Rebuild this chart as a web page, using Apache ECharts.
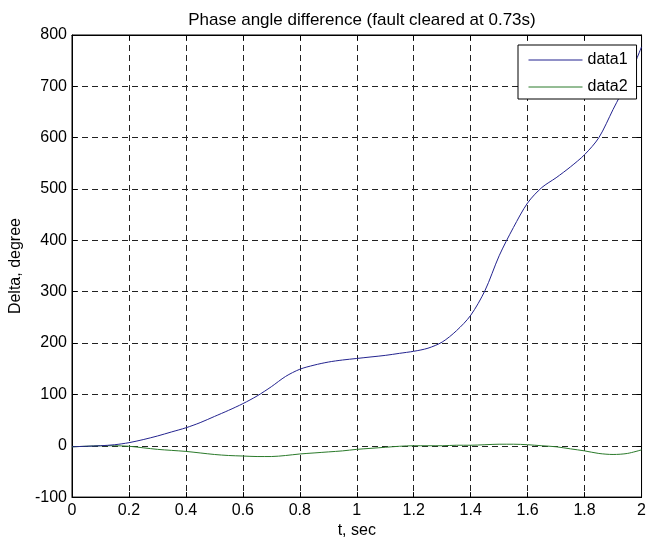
<!DOCTYPE html>
<html>
<head>
<meta charset="utf-8">
<title>Phase angle difference</title>
<script src="https://cdn.jsdelivr.net/npm/echarts@6/dist/echarts.min.js"></script>
<style>
  html, body { margin: 0; padding: 0; background: #fff; }
  #chart { width: 649px; height: 544px; }
</style>
</head>
<body>
<div id="chart"></div>
<script>
// time axis (sec)
const tValues = [
  0, 0.05, 0.1, 0.15, 0.2, 0.25, 0.3, 0.35, 0.4, 0.45,
  0.5, 0.55, 0.6, 0.65, 0.7, 0.75, 0.8, 0.85, 0.9, 0.95,
  1.0, 1.05, 1.1, 1.15, 1.2, 1.25, 1.3, 1.35, 1.4, 1.45,
  1.5, 1.55, 1.6, 1.65, 1.7, 1.75, 1.8, 1.85, 1.9, 1.95, 2.0
]

// data1 - delta, degree
const data1Values = [
  -2, -1, 0, 2, 6, 12, 19, 27, 35, 45,
  57, 69, 82, 97, 115, 135, 149, 157, 163, 167,
  170, 173, 176, 180, 184, 190, 202, 224, 254, 302,
  370, 425, 473, 503, 522, 543, 567, 600, 655, 710, 777
]

// data2 - delta, degree
const data2Values = [
  -2, -1, 0, 0, -1, -4, -7, -9, -11, -14,
  -17, -19, -20, -21, -21, -19, -16, -14, -12, -10,
  -7, -5, -3, -1, 0, 0, 0, 1, 1, 2,
  3, 3, 2, 0, -2, -6, -10, -15, -17, -15, -8
]

const seriesNames = ['data1', 'data2']
const xTicks = { min: 0, max: 2, interval: 0.2 }
const yTicks = { min: -100, max: 800, interval: 100 }

const FONT = "'Liberation Sans', Arial, sans-serif"

const chart = echarts.init(document.getElementById('chart'))

const pairs = (vals) => tValues.map((t, i) => [t, vals[i]])

const gridLine = {
  show: true,
  lineStyle: { color: '#222', type: [6, 4], width: 1 }
}

const boxAxis = {
  type: 'value',
  axisLine: { show: true, onZero: false, lineStyle: { color: '#000' } },
  axisTick: { show: true, inside: true, length: 5, lineStyle: { color: '#000' } },
  axisLabel: { show: false },
  splitLine: { show: false }
}

const option = {
  backgroundColor: '#fff',
  animation: false,
  textStyle: { fontFamily: FONT },
  title: {
    text: 'Phase angle difference (fault cleared at 0.73s)',
    left: 357,
    top: 7,
    textAlign: 'center',
    textStyle: { fontFamily: FONT, fontSize: 17, fontWeight: 'normal', color: '#000' }
  },
  legend: {
    data: seriesNames,
    orient: 'vertical',
    left: 518,
    top: 45,
    itemWidth: 54,
    itemHeight: 14,
    itemGap: 11,
    padding: [7, 9, 4, 10],
    backgroundColor: '#fff',
    borderColor: '#000',
    borderWidth: 1,
    borderRadius: 0,
    itemStyle: { opacity: 0 },
    lineStyle: { width: 1 },
    textStyle: { fontFamily: FONT, fontSize: 16, color: '#000' }
  },
  grid: {
    left: 72,
    right: 5,
    top: 35,
    bottom: 45,
    show: true,
    borderColor: '#000',
    borderWidth: 1,
    backgroundColor: '#fff'
  },
  xAxis: [
    {
      type: 'value',
      min: xTicks.min,
      max: xTicks.max,
      interval: xTicks.interval,
      name: 't, sec',
      nameLocation: 'middle',
      nameGap: 20,
      nameTextStyle: { fontFamily: FONT, fontSize: 16, color: '#000' },
      axisLine: { show: true, onZero: false, lineStyle: { color: '#000' } },
      axisTick: { show: true, inside: true, length: 5, lineStyle: { color: '#000' } },
      axisLabel: { fontFamily: FONT, fontSize: 16, color: '#000', margin: 5 },
      splitLine: gridLine
    },
    Object.assign({}, boxAxis, {
      position: 'top',
      min: xTicks.min,
      max: xTicks.max,
      interval: xTicks.interval
    })
  ],
  yAxis: [
    {
      type: 'value',
      min: yTicks.min,
      max: yTicks.max,
      interval: yTicks.interval,
      name: 'Delta, degree',
      nameLocation: 'middle',
      nameGap: 46,
      nameRotate: 90,
      nameTextStyle: { fontFamily: FONT, fontSize: 16, color: '#000' },
      axisLine: { show: true, onZero: false, lineStyle: { color: '#000' } },
      axisTick: { show: true, inside: true, length: 5, lineStyle: { color: '#000' } },
      axisLabel: { fontFamily: FONT, fontSize: 16, color: '#000', margin: 5 },
      splitLine: gridLine
    },
    Object.assign({}, boxAxis, {
      position: 'right',
      min: yTicks.min,
      max: yTicks.max,
      interval: yTicks.interval
    })
  ],
  series: [
    {
      name: seriesNames[0],
      type: 'line',
      data: pairs(data1Values),
      symbol: 'none',
      smooth: 0.3,
      lineStyle: { color: '#23238f', width: 1 },
      itemStyle: { color: '#23238f' },
      z: 3
    },
    {
      name: seriesNames[1],
      type: 'line',
      data: pairs(data2Values),
      symbol: 'none',
      smooth: 0.3,
      lineStyle: { color: '#2a7a2a', width: 1 },
      itemStyle: { color: '#2a7a2a' },
      z: 2
    }
  ]
}

chart.setOption(option)
</script>
</body>
</html>
